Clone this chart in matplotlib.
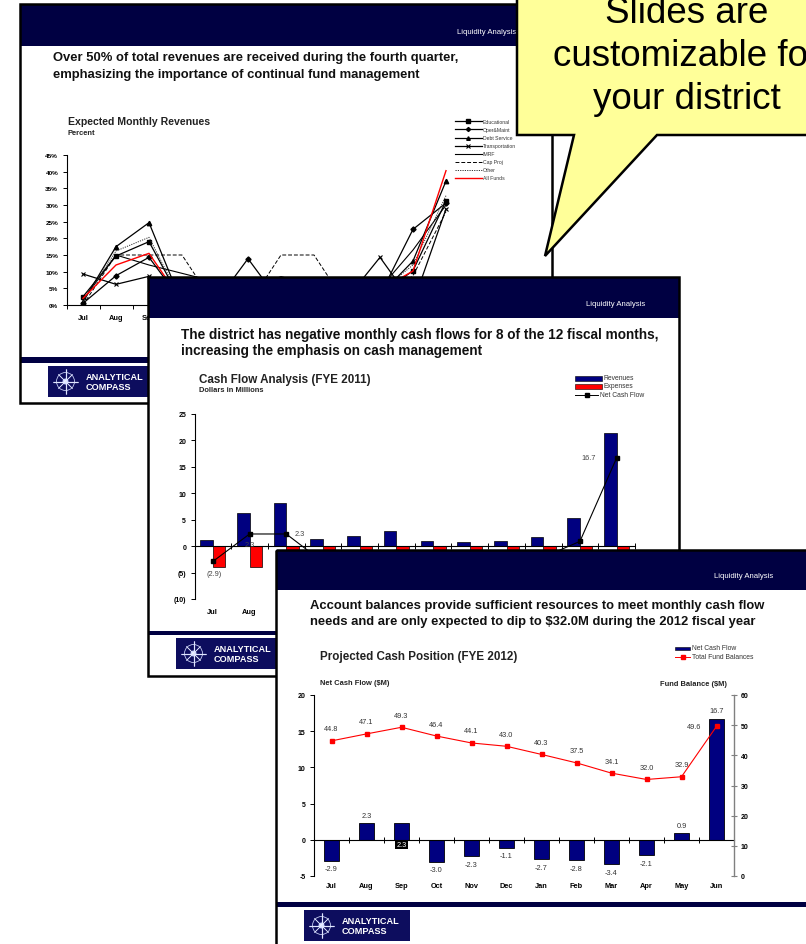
import matplotlib

matplotlib.use("Agg")
import matplotlib.pyplot as plt
from matplotlib.patches import Rectangle, Polygon, Circle
from matplotlib.ticker import FuncFormatter
import numpy as np

plt.rcParams["font.family"] = ["Liberation Sans", "DejaVu Sans"]

W, H = 806, 945
NAVY = "#000042"
BAR_NAVY = "#000080"

MONTHS = ["Jul", "Aug", "Sep", "Oct", "Nov", "Dec",
          "Jan", "Feb", "Mar", "Apr", "May", "Jun"]

# --- slide 1: expected monthly revenues, percent of annual, by fund
educational = [2.5, 14.7, 19.0, 0.8, 2.0, 3.5, 4.0, 3.0, 2.5, 3.0, 10.3, 31.2]
oper_maint = [0.5, 8.8, 14.3, 1.0, 0.5, 13.9, 0.5, 3.0, 2.0, 3.0, 22.7, 30.6]
debt_service = [1.0, 17.5, 24.7, 0.5, 1.0, 2.0, 3.0, 2.0, 2.0, 3.0, 13.2, 37.2]
transportation = [9.3, 6.2, 8.6, 3.0, 2.5, 4.0, 5.0, 4.0, 2.0, 14.3, 0.5, 28.8]
imrf = [1.5, 15.0, 12.0, 9.5, 7.0, 5.0, 8.5, 6.0, 4.0, 5.0, 16.5, 30.0]
cap_proj = [0.0, 15.0, 15.0, 15.0, 0.0, 0.0, 15.0, 15.0, 0.0, 0.0, 8.8, 28.0]
other = [1.0, 16.2, 20.3, 1.0, 2.0, 3.0, 4.0, 3.0, 3.0, 4.0, 12.0, 32.8]
all_funds = [2.0, 12.0, 15.5, 1.0, 2.5, 5.0, 4.0, 3.5, 3.0, 4.5, 10.2, 40.3]

# --- slide 2: FYE 2011 cash flow, $M
revenues_2011 = [1.1, 6.2, 8.2, 1.4, 1.9, 2.8, 1.0, 0.8, 0.9, 1.7, 5.3, 21.4]
expenses_2011 = [-4.0, -3.9, -5.9, -4.4, -4.2, -3.9, -3.7, -3.6, -4.3, -3.8, -4.4, -4.7]
net_2011 = [-2.9, 2.3, 2.3, -3.0, -2.3, -1.1, -2.7, -2.8, -3.4, -2.1, 0.9, 16.7]

# --- slide 3: FYE 2012 projected cash position, $M
net_2012 = [-2.9, 2.3, 2.3, -3.0, -2.3, -1.1, -2.7, -2.8, -3.4, -2.1, 0.9, 16.7]
fund_balance_2012 = [44.8, 47.1, 49.3, 46.4, 44.1, 43.0, 40.3, 37.5, 34.1, 32.0, 32.9, 49.6]

# slide boxes in pixels (left, top, right, bottom), later slides sit on top
SLIDE1 = (20, 5, 552, 404)
SLIDE2 = (148, 278, 679, 677)
SLIDE3 = (276, 551, 815, 960)

TITLE_FS = 9.4
CHART_FS = 8.4
SUB_FS = 5.4
TICK_FS = 5.0
LABEL_FS = 5.3
LEG_FS = 4.9

fig = plt.figure(figsize=(W / 100, H / 100), dpi=100)


def px_axes(x0, y0, x1, y1, z):
    """Axes placed by pixel box (top-left origin)."""
    return fig.add_axes([x0 / W, 1 - y1 / H, (x1 - x0) / W, (y1 - y0) / H], zorder=z)


def covered(ax, xv, yv, box):
    """True when data point (xv, yv) of ax falls under the slide box on top."""
    if box is None:
        return False
    px, py = ax.transData.transform((xv, yv))
    py = H - py
    return box[0] < px < box[2] and box[1] < py < box[3]


def draw_logo(ax, x, y, w=106, h=31):
    ax.add_patch(Rectangle((x, y), w, h, fc="#0d0d5e", ec="none"))
    cx, cy, r = x + 17.5, y + 15.5, 12.5
    ax.add_patch(Circle((cx, cy), r * 0.72, fc="none", ec="#c0c8ee", lw=0.6))
    for k in range(8):
        a = k * np.pi / 4
        L = r if k % 2 == 0 else r * 0.8
        ax.plot([cx - L * np.cos(a), cx + L * np.cos(a)],
                [cy - L * np.sin(a), cy + L * np.sin(a)],
                color="#e0e6ff", lw=0.5 if k % 2 else 0.8, solid_capstyle="butt")
    ax.add_patch(Circle((cx, cy), 3.0, fc="#c8d4ff", ec="none"))
    ax.add_patch(Circle((cx, cy), 1.6, fc="white", ec="none"))
    ax.text(x + 38, y + 10.5, "ANALYTICAL", color="white", fontsize=6.6,
            fontweight="bold", va="center", ha="left")
    ax.text(x + 38, y + 20.5, "COMPASS", color="white", fontsize=6.6,
            fontweight="bold", va="center", ha="left")


def slide(box, z, header_bottom, band, logo_xy, tag_xy):
    x0, y0, x1, y1 = box
    ax = px_axes(x0, y0, x1, y1, z)
    ax.set_xlim(x0, x1)
    ax.set_ylim(y1, y0)
    ax.axis("off")
    ax.add_patch(Rectangle((x0, y0), x1 - x0, y1 - y0, fc="white", ec="none",
                           clip_on=False))
    ax.add_patch(Rectangle((x0, y0), x1 - x0, header_bottom - y0, fc=NAVY, ec="none"))
    ax.add_patch(Rectangle((x0, band[0]), x1 - x0, band[1] - band[0], fc=NAVY, ec="none"))
    ax.text(tag_xy[0], tag_xy[1], "Liquidity Analysis", color="white", fontsize=5.6,
            ha="right", va="center")
    draw_logo(ax, *logo_xy)
    ax.add_patch(Rectangle((x0, y0), x1 - x0, y1 - y0, fc="none", ec="black", lw=1.8,
                           clip_on=False, zorder=5))
    return ax


def slide_texts(ax, x, ys, lines, fs=TITLE_FS):
    for yy, t in zip(ys, lines):
        ax.text(x, yy, t, fontsize=fs, fontweight="bold", va="center",
                color="#111111")


def style_axis(ax, ylim, yticks, fmt, zero_spine=False):
    x = np.arange(len(MONTHS))
    ax.set_xlim(-0.5, len(MONTHS) - 0.5)
    ax.set_ylim(*ylim)
    ax.patch.set_alpha(0)
    for s in ("top", "right"):
        ax.spines[s].set_visible(False)
    ax.spines["left"].set_linewidth(0.8)
    ax.spines["bottom"].set_linewidth(0.8)
    if zero_spine:
        ax.spines["bottom"].set_position(("data", 0))
    ax.set_yticks(yticks)
    ax.yaxis.set_major_formatter(FuncFormatter(fmt))
    ax.tick_params(axis="y", labelsize=TICK_FS, length=3, width=0.7, pad=3)
    for lab in ax.get_yticklabels():
        lab.set_fontweight("bold")
    ax.set_xticks(x)
    ax.set_xticklabels([])
    ax.tick_params(axis="x", which="major", length=0)
    ax.set_xticks(np.arange(len(MONTHS) + 1) - 0.5, minor=True)
    ax.tick_params(axis="x", which="minor", length=4 if zero_spine else 3, width=0.7,
                   direction="inout" if zero_spine else "out")


def month_labels(ax, ypos, cover=None):
    ylo = ax.get_ylim()[0]
    for i, m in enumerate(MONTHS):
        # skip labels whose left edge already lies under the next slide
        if covered(ax, i - 0.25, ylo, cover):
            continue
        ax.text(i, ypos, m, transform=ax.get_xaxis_transform(), ha="center",
                va="center", fontsize=TICK_FS + 0.3, fontweight="bold")


x = np.arange(len(MONTHS))

# ================= slide 1 =================
s1 = slide(SLIDE1, 1, 47, (358, 364), (48, 367), (516, 33))
slide_texts(s1, 53, (58, 75),
            ["Over 50% of total revenues are received during the fourth quarter,",
             "emphasizing the importance of continual fund management"])
s1.text(68, 122, "Expected Monthly Revenues", fontsize=7.6, fontweight="bold",
        va="center", color="#222222")
s1.text(68, 133.5, "Percent", fontsize=SUB_FS, fontweight="bold", va="center",
        color="#222222")

series1 = [
    ("Educational", educational, dict(color="black", lw=0.9, marker="s", ms=3)),
    ("Oper&Maint", oper_maint, dict(color="black", lw=0.9, marker="D", ms=2.6)),
    ("Debt Service", debt_service, dict(color="black", lw=0.9, marker="^", ms=3.2)),
    ("Transportation", transportation, dict(color="black", lw=0.9, marker="x", ms=3,
                                            mew=0.8)),
    ("IMRF", imrf, dict(color="black", lw=0.8)),
    ("Cap Proj", cap_proj, dict(color="black", lw=0.7, ls=(0, (4, 2)))),
    ("Other", other, dict(color="#333333", lw=0.7, ls=(0, (1.2, 1.2)))),
    ("All Funds", all_funds, dict(color="red", lw=1.0)),
]
ax1 = px_axes(66.5, 156, 462.5, 306, 2)
for name, vals, kw in series1:
    ax1.plot(x, vals, **kw)
style_axis(ax1, (0, 45), range(0, 46, 5), lambda v, p: f"{v:.0f}%")
for lab in ax1.get_yticklabels():
    lab.set_fontsize(4.6)
month_labels(ax1, -0.085, cover=SLIDE2)

# legend drawn by hand at the slide's pixel scale
for i, (name, vals, kw) in enumerate(series1):
    yy = 122.3 + i * 8.1
    line_kw = {k: v for k, v in kw.items() if k not in ("marker", "ms", "mew")}
    s1.plot([455, 481.7], [yy, yy], **line_kw)
    if "marker" in kw:
        s1.plot([468.3], [yy], marker=kw["marker"], color=kw["color"],
                ms=kw["ms"] * 0.8, mew=kw.get("mew", 1.0), ls="none")
    s1.text(482.7, yy, name, fontsize=3.7, va="center", color="#333333")

# ================= slide 2 =================
s2 = slide(SLIDE2, 3, 319, (632, 636), (176, 639), (645.6, 305))
slide_texts(s2, 181, (335, 351),
            ["The district has negative monthly cash flows for 8 of the 12 fiscal months,",
             "increasing the emphasis on cash management"], fs=9.8)
s2.text(199, 379.5, "Cash Flow Analysis (FYE 2011)", fontsize=CHART_FS, fontweight="bold",
        va="center", color="#222222")
s2.text(199, 391, "Dollars in Millions", fontsize=SUB_FS, fontweight="bold", va="center",
        color="#222222")
s2.add_patch(Rectangle((575, 377), 27, 4.5, fc=BAR_NAVY, ec="black", lw=0.4))
s2.add_patch(Rectangle((575, 385), 27, 4.5, fc="red", ec="black", lw=0.4))
s2.plot([575, 598], [395.5, 395.5], color="black", lw=0.7)
s2.plot([586.5], [395.5], marker="s", ms=2.8, color="black")
for yy, t in ((379, "Revenues"), (387, "Expenses"), (395.5, "Net Cash Flow")):
    s2.text(603.5 if t != "Net Cash Flow" else 599.5, yy, t, fontsize=LEG_FS,
            va="center", color="#333333")

ax2 = px_axes(194.5, 415, 635, 600, 4)
ax2.bar(x - 0.17, revenues_2011, width=0.34, color=BAR_NAVY, ec="black", lw=0.5)
ax2.bar(x + 0.17, expenses_2011, width=0.34, color="red", ec="black", lw=0.5)
ax2.plot(x, net_2011, color="black", lw=0.8, marker="s", ms=3.4, zorder=4)
style_axis(ax2, (-10, 25), range(-10, 26, 5),
           lambda v, p: f"({abs(v):.0f})" if v < 0 else f"{v:.0f}", zero_spine=True)
month_labels(ax2, -0.065, cover=SLIDE3)
net_label_offsets = [(1, -12), (0, -11), (13, 0)] + [(0, -11)] * 8 + [(-28, 0)]
for i, v in enumerate(net_2011):
    dx, dy = net_label_offsets[i]
    if covered(ax2, i, v, SLIDE3) and dy < 0:
        continue
    txt = f"({abs(v):.1f})" if v < 0 else f"{v:.1f}"
    ax2.annotate(txt, (i, v), xytext=(dx, dy), textcoords="offset pixels",
                 ha="center", va="center", fontsize=LABEL_FS, color="#444444", zorder=5)

# ================= slide 3 =================
s3 = slide(SLIDE3, 5, 591, (903, 908), (304, 911), (773, 577))
slide_texts(s3, 310, (606.5, 622),
            ["Account balances provide sufficient resources to meet monthly cash flow",
             "needs and are only expected to dip to $32.0M during the 2012 fiscal year"])
s3.text(320, 657, "Projected Cash Position (FYE 2012)", fontsize=CHART_FS,
        fontweight="bold", va="center", color="#222222")
s3.text(320, 683.5, "Net Cash Flow ($M)", fontsize=SUB_FS, fontweight="bold",
        va="center", color="#222222")
s3.text(727, 685, "Fund Balance ($M)", fontsize=SUB_FS, fontweight="bold", va="center",
        ha="right", color="#222222")
s3.add_patch(Rectangle((675, 647.5), 15, 3.5, fc=BAR_NAVY, ec="black", lw=0.4))
s3.plot([675, 690], [658, 658], color="red", lw=0.7)
s3.plot([682.5], [658], marker="s", ms=2.4, color="red")
s3.text(692.5, 649, "Net Cash Flow", fontsize=LEG_FS, va="center", color="#333333")
s3.text(692.5, 658, "Total Fund Balances", fontsize=LEG_FS, va="center", color="#333333")

ax3 = px_axes(314, 696, 734, 877, 6)
ax3.bar(x, net_2012, width=0.44, color=BAR_NAVY, ec="black", lw=0.6)
style_axis(ax3, (-5, 20), range(-5, 21, 5), lambda v, p: f"{v:.0f}", zero_spine=True)
month_labels(ax3, -0.055)
for i, v in enumerate(net_2012):
    if i == 2:
        ax3.annotate(f"{v:.1f}", (i, 0), xytext=(0, -5), textcoords="offset pixels",
                     ha="center", va="center", fontsize=LABEL_FS, color="white",
                     bbox=dict(boxstyle="square,pad=0.15", fc="black", ec="none"))
        continue
    ax3.annotate(f"{v:.1f}", (i, v), xytext=(0, 8 if v > 0 else -8),
                 textcoords="offset pixels", ha="center", va="center", fontsize=LABEL_FS,
                 color="#333333")

ax3b = ax3.twinx()
ax3b.set_zorder(6.5)
ax3b.patch.set_visible(False)
ax3b.plot(x, fund_balance_2012, color="red", lw=0.8, marker="s", ms=2.8)
ax3b.set_ylim(0, 60)
ax3b.set_xlim(-0.5, len(MONTHS) - 0.5)
for s in ("top", "left", "bottom"):
    ax3b.spines[s].set_visible(False)
ax3b.spines["right"].set_color("#808080")
ax3b.spines["right"].set_linewidth(1.0)
ax3b.set_yticks(range(0, 61, 10))
ax3b.tick_params(axis="y", labelsize=TICK_FS, length=4, width=0.8, color="#808080",
                 direction="inout", pad=3)
for lab in ax3b.get_yticklabels():
    lab.set_fontweight("bold")
bal_label_offsets = [(0, 12)] * 11 + [(-22, 0)]
for i, v in enumerate(fund_balance_2012):
    ax3b.annotate(f"{v:.1f}", (i, v), xytext=bal_label_offsets[i],
                  textcoords="offset pixels", ha="center", va="center", fontsize=LABEL_FS,
                  color="#333333")

# ================= callout =================
ov = px_axes(0, 0, W, H, 10)
ov.set_xlim(0, W)
ov.set_ylim(H, 0)
ov.axis("off")
ov.add_patch(Polygon([(517, -20), (517, 136), (574, 136), (545, 257), (657, 136),
                      (840, 136), (840, -20)], closed=True, fc="#ffff99", ec="black",
                     lw=1.8, joinstyle="miter", clip_on=False))
for yy, t in ((23, "Slides are"), (66, "customizable for"), (109, "your district")):
    ov.text(687, yy, t, fontsize=26.5, ha="center", va="baseline", color="black")

fig.savefig("out.png", dpi=100)
